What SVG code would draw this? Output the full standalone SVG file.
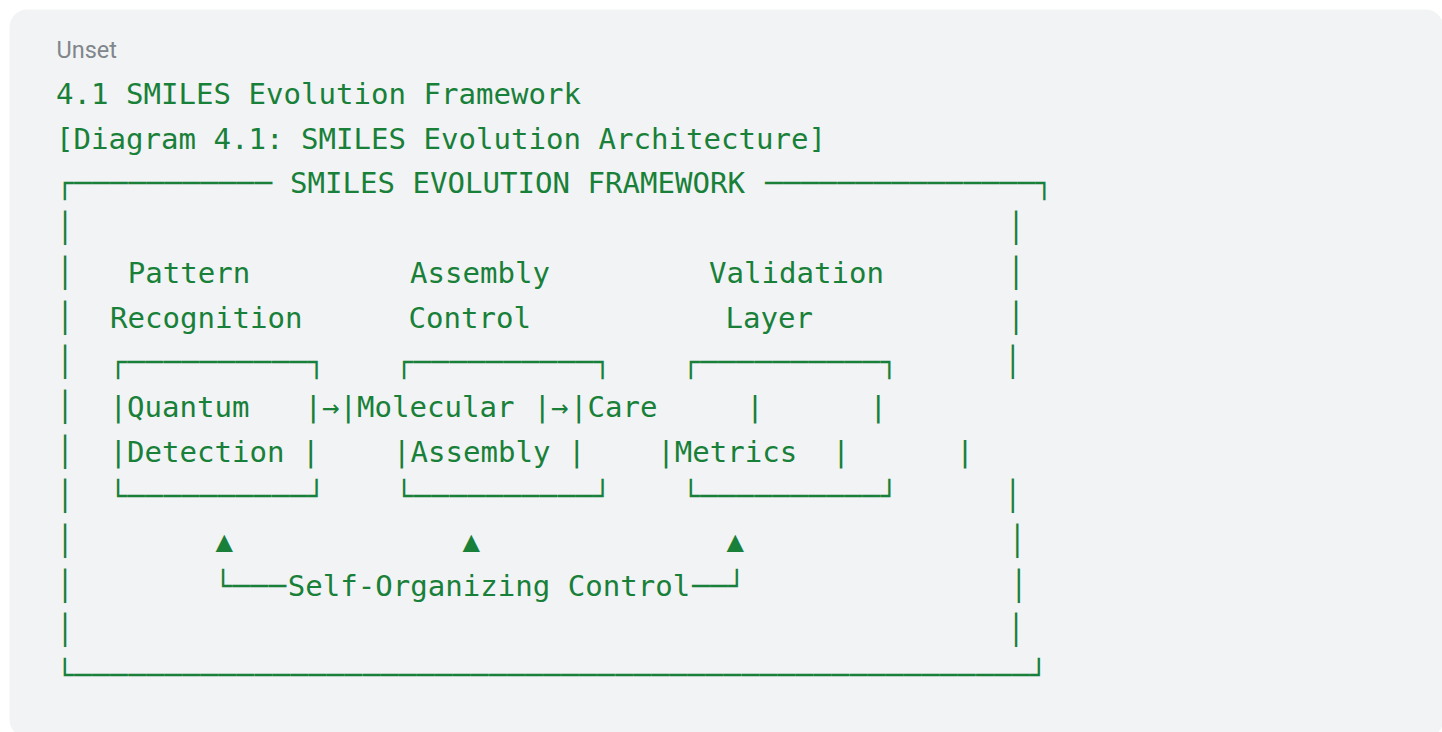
<svg xmlns="http://www.w3.org/2000/svg" width="1442" height="732" viewBox="0 0 1442 732">
<style>
.t{font-family:"DejaVu Sans Mono","Liberation Mono",monospace;font-size:29.07px;fill:#188038;white-space:pre}
.b{font-family:"DejaVu Sans Mono","Liberation Mono",monospace;font-size:29.07px;fill:#188038;letter-spacing:0.54px;white-space:pre}
.lbl{font-family:Roboto,"Liberation Sans",sans-serif;font-size:23.5px;fill:#80868b}
</style>
<rect width="1442" height="732" fill="#ffffff"/>
<rect x="9.5" y="9.5" width="1434" height="728" rx="18" fill="#f1f3f4"/>
<g id="header">
<text class="lbl" x="56.5" y="57.5">Unset</text>
<text class="t" x="56" y="104">4.1 SMILES Evolution Framework</text>
<text class="t" x="56" y="148.7">[Diagram 4.1: SMILES Evolution Architecture]</text>
</g>
<g id="frame">
<text class="b" x="56" y="193.4">┌───────────</text>
<text class="t" x="290" y="193.4">SMILES EVOLUTION FRAMEWORK</text>
<text class="b" x="765" y="193.4">───────────────┐</text>
<text class="t" x="56.3" y="238.1">│</text><text class="t" x="1007.3" y="238.1">│</text>
<text class="t" x="56.3" y="282.8">│</text><text class="t" x="1007.3" y="282.8">│</text>
<text class="t" x="56.3" y="327.5">│</text><text class="t" x="1007.3" y="327.5">│</text>
<text class="t" x="56.3" y="372.2">│</text><text class="t" x="1004" y="372.2">│</text>
<text class="t" x="56.3" y="416.9">│</text>
<text class="t" x="56.3" y="461.6">│</text>
<text class="t" x="56.3" y="506.3">│</text><text class="t" x="1004" y="506.3">│</text>
<text class="t" x="56.3" y="551">│</text><text class="t" x="1008.5" y="551">│</text>
<text class="t" x="56.3" y="595.7">│</text><text class="t" x="1010" y="595.7">│</text>
<text class="t" x="56.3" y="640.4">│</text><text class="t" x="1007.3" y="640.4">│</text>
<text class="b" x="56" y="685.1">└─────────────────────────────────────────────────────┘</text>
</g>
<g id="pattern-recognition">
<text class="t" x="127.8" y="282.8">Pattern</text>
<text class="t" x="110" y="327.5">Recognition</text>
<text class="b" x="109.3" y="372.2">┌──────────┐</text>
<text class="t" x="109.5" y="416.9">|Quantum</text>
<text class="t" x="304.5" y="416.9">|</text>
<text class="t" x="109.5" y="461.6">|Detection |</text>
<text class="b" x="109.3" y="506.3">└──────────┘</text>
</g>
<g id="assembly-control">
<text class="t" x="410" y="282.8">Assembly</text>
<text class="t" x="408.5" y="327.5">Control</text>
<text class="b" x="395.3" y="372.2">┌──────────┐</text>
<text class="t" x="339.5" y="416.9">|Molecular</text>
<text class="t" x="533.5" y="416.9">|</text>
<text class="t" x="393" y="461.6">|Assembly |</text>
<text class="b" x="395.3" y="506.3">└──────────┘</text>
</g>
<g id="validation-layer">
<text class="t" x="709" y="282.8">Validation</text>
<text class="t" x="725.5" y="327.5">Layer</text>
<text class="b" x="682" y="372.2">┌──────────┐</text>
<text class="t" x="570" y="416.9">|Care</text>
<text class="t" x="746.3" y="416.9">|</text>
<text class="t" x="869.5" y="416.9">|</text>
<text class="t" x="657.3" y="461.6">|Metrics  |</text>
<text class="t" x="956.3" y="461.6">|</text>
<text class="b" x="682" y="506.3">└──────────┘</text>
</g>
<g id="connectors">
<text class="t" x="322" y="416.9">→</text>
<text class="t" x="551" y="416.9">→</text>
<text class="t" x="224.3" y="551" text-anchor="middle">▲</text>
<text class="t" x="471.3" y="551" text-anchor="middle">▲</text>
<text class="t" x="735.3" y="551" text-anchor="middle">▲</text>
<text class="b" x="214.3" y="595.7">└───</text>
<text class="t" x="287.8" y="595.7">Self-Organizing Control</text>
<text class="b" x="692" y="595.7">──┘</text>
</g>
</svg>
